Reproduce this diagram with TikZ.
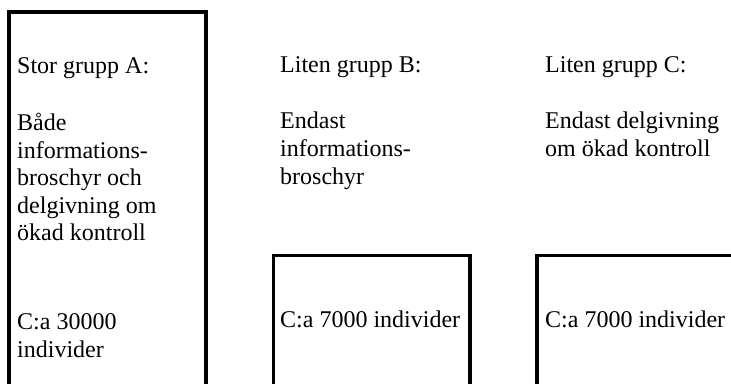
\documentclass[tikz,border=0pt]{standalone}
\usepackage{fontspec}
\setmainfont{Liberation Serif}
\begin{document}
\begin{tikzpicture}[x=1pt,y=1pt,
  txt/.style={anchor=base west,inner sep=0pt,font=\fontsize{24}{27.6}\selectfont},
  frame/.style={draw=black,line width=3.5pt,line join=miter}]
\useasboundingbox (0,0) rectangle (731,383);
\clip (0,0) rectangle (731,383);
\fill[white] (0,0) rectangle (731,383);
% image y -> tikz y = 383 - y
\coordinate (aBL) at (9,-10);
\coordinate (aTL) at (9,{383-12});
\coordinate (aTR) at (206,{383-12});
\coordinate (aBR) at (206,-10);
\draw[frame] (aBL) -- (aTL) -- (aTR) -- (aBR);
\coordinate (bBL) at (273.5,-10);
\coordinate (bTL) at (273.5,{383-255.5});
\coordinate (bTR) at (470,{383-255.5});
\coordinate (bBR) at (470,-10);
\draw[frame] (bBL) -- (bTL) -- (bTR) -- (bBR);
\coordinate (cBL) at (537,-10);
\coordinate (cTL) at (537,{383-255.5});
\coordinate (cTR) at (745,{383-255.5});
\draw[frame] (cBL) -- (cTL) -- (cTR);
% group A
\node[txt] (a1) at (17,{383-74}) {Stor grupp A:};
\node[txt] (a2) at (17,{383-130.5}) {Både};
\node[txt] (a3) at (17,{383-158.1}) {informations-};
\node[txt] (a4) at (17,{383-185.7}) {broschyr och};
\node[txt] (a5) at (17,{383-213.3}) {delgivning om};
\node[txt] (a6) at (17,{383-240.9}) {ökad kontroll};
\node[txt] (a7) at (17,{383-330}) {C:a 30000};
\node[txt] (a8) at (17,{383-357.6}) {individer};
% group B
\node[txt] (b1) at (280,{383-73}) {Liten grupp B:};
\node[txt] (b2) at (280,{383-129}) {Endast};
\node[txt] (b3) at (280,{383-156.6}) {informations-};
\node[txt] (b4) at (280,{383-184.2}) {broschyr};
\node[txt] (b5) at (280,{383-327}) {C:a 7000 individer};
% group C
\node[txt] (c1) at (545,{383-73}) {Liten grupp C:};
\node[txt] (c2) at (545,{383-129}) {Endast delgivning};
\node[txt] (c3) at (545,{383-156.6}) {om ökad kontroll};
\node[txt] (c5) at (545,{383-327}) {C:a 7000 individer};
\end{tikzpicture}
\end{document}
